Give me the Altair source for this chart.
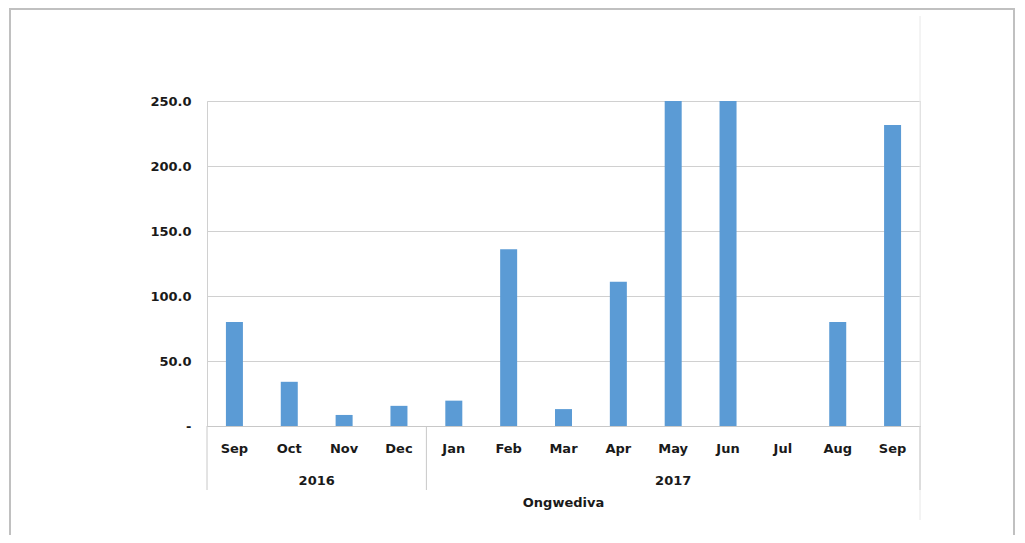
import altair as alt
import pandas as pd

months = ["Sep", "Oct", "Nov", "Dec", "Jan", "Feb", "Mar", "Apr", "May", "Jun", "Jul", "Aug", "Sep"]
years = ["2016"] * 4 + ["2017"] * 9
values = [80, 34, 8.5, 15.5, 19.5, 136, 13, 111, 250, 250, None, 80, 231.5]
group_title = "Ongwediva"
y_ticks = [0, 50, 100, 150, 200, 250]

W, H = 713, 325
FONT = "DejaVu Sans"
TXT = "#1a1a1a"
GRID = "#d0d0d0"

df = pd.DataFrame({"month": months, "year": years, "value": values})
df["pos"] = [i + 0.5 for i in range(len(months))]

# year groups
yr_rows = []
sep_pos = []
start = 0
for i in range(1, len(years) + 1):
    if i == len(years) or years[i] != years[start]:
        yr_rows.append({"year": years[start], "center": (start + i) / 2})
        sep_pos.append(start)
        start = i
sep_pos.append(len(years))
yr_df = pd.DataFrame(yr_rows)
sep_df = pd.DataFrame({"pos": sep_pos})

xscale = alt.Scale(domain=[0, len(months)], nice=False, zero=False, padding=0)

bars = alt.Chart(df).mark_bar(size=17, color="#5B9BD5", clip=True).encode(
    x=alt.X("pos:Q", scale=xscale,
            axis=alt.Axis(labels=False, ticks=False, grid=False, title=None,
                          domainColor="#c8c8c8", domainWidth=1)),
    y=alt.Y("value:Q", scale=alt.Scale(domain=[0, 250], nice=False),
            axis=alt.Axis(values=y_ticks, title=None, ticks=False, labelPadding=16,
                          labelExpr="datum.value == 0 ? '-\u00a0\u00a0\u00a0' : format(datum.value, '.1f')",
                          gridColor=GRID, domainColor=GRID,
                          labelFont=FONT, labelFontSize=13, labelFontWeight="bold",
                          labelColor=TXT)),
)

month_text = alt.Chart(df).mark_text(font=FONT, fontSize=13, fontWeight="bold",
                                     color=TXT, baseline="middle").encode(
    x="pos:Q", y=alt.value(348), text="month:N")

year_text = alt.Chart(yr_df).mark_text(font=FONT, fontSize=13, fontWeight="bold",
                                       color=TXT, baseline="middle").encode(
    x="center:Q", y=alt.value(380), text="year:N")

seps = alt.Chart(sep_df).mark_rule(color="#c8c8c8", strokeWidth=1).encode(
    x="pos:Q", y=alt.value(H), y2=alt.value(389))

title_text = alt.Chart(pd.DataFrame({"t": [group_title]})).mark_text(
    font=FONT, fontSize=13, fontWeight="bold", color=TXT, baseline="middle").encode(
    x=alt.value(W / 2), y=alt.value(402), text="t:N")

faint = alt.Chart(pd.DataFrame({"a": [0]})).mark_rule(color="#e8e8e8", strokeWidth=1).encode(
    x=alt.value(W), y=alt.value(-85), y2=alt.value(419))

frame = alt.Chart(pd.DataFrame({"a": [0]})).mark_rect(
    fillOpacity=0, stroke="#c0c0c0", strokeWidth=2).encode(
    x=alt.value(-197), x2=alt.value(807), y=alt.value(-92), y2=alt.value(460))

chart = alt.layer(frame, faint, bars, seps, month_text, year_text, title_text).properties(
    width=W, height=H,
    autosize=alt.AutoSizeParams(type="none"),
    padding={"left": 199, "top": 93, "right": 97, "bottom": 109},
).configure_view(stroke=None).configure(background="white")

chart.save("out.html", embed_options={"renderer": "svg", "actions": False})
